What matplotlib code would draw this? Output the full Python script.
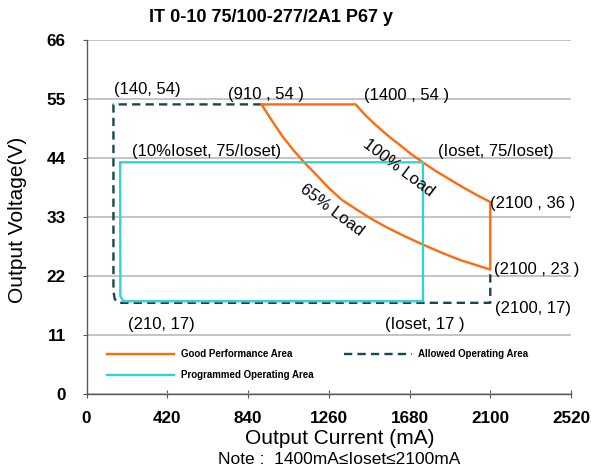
import matplotlib.pyplot as plt
from matplotlib.lines import Line2D

plt.rcParams['font.family'] = ['Liberation Sans', 'DejaVu Sans']

# area outlines (current mA, voltage V)
# good performance: top edge, 100% load curve, right edge, 65% load curve back
good_i = [910, 1400, 1450, 1500, 1560, 1620, 1690, 1753, 1820, 1890, 1960, 2030, 2100,
          2100, 2030, 1950, 1850, 1753, 1650, 1560, 1480, 1400, 1328, 1260, 1200, 1137,
          1080, 1020, 960, 910]
good_v = [54, 54, 52.0, 50.3, 48.4, 46.7, 44.7, 43.1, 41.5, 40.0, 38.5, 37.1, 35.8,
          23.2, 24.0, 24.9, 26.3, 27.8, 29.5, 31.1, 32.7, 34.5, 36.2, 38.4, 40.7, 43.0,
          45.3, 48.0, 51.2, 54]

allowed_i = [910, 140, 140, 146, 156, 172, 2100, 2100]
allowed_v = [54, 54, 19.2, 17.8, 17.2, 17.0, 17.0, 23.2]

prog_i = [175, 1750, 1750, 192, 176, 175]
prog_v = [43.2, 43.2, 17.3, 17.3, 18.2, 43.2]

xticks = [0, 420, 840, 1260, 1680, 2100, 2520]
yticks = [0, 11, 22, 33, 44, 55, 66]

labels = [  # text, x, y, ha
    ('(140, 54)', 317, 56.7, 'center'),
    ('(910 , 54 )', 934, 55.9, 'center'),
    ('(1400 , 54 )', 1666, 55.75, 'center'),
    ('(10%Ioset, 75/Ioset)', 622, 45.2, 'center'),
    ('(Ioset, 75/Ioset)', 2130, 45.2, 'center'),
    ('(2100 , 36 )', 2100, 35.5, 'left'),
    ('(2100 , 23 )', 2118, 23.2, 'left'),
    ('(2100, 17)', 2122, 16.0, 'left'),
    ('(210, 17)', 387, 12.9, 'center'),
    ('(Ioset, 17 )', 1762, 12.9, 'center'),
]

orange = '#ff6a0e'
teal = '#16464f'
cyan = '#33d3d3'

fig = plt.figure(figsize=(5.91, 4.71), dpi=100)
ax = fig.add_axes([0.1464, 0.1635, 0.8198, 0.7515])

ax.plot(allowed_i, allowed_v, color=teal, lw=1.7, ls=(0, (3.5, 2.2)), zorder=3)
ax.plot(good_i, good_v, color=orange, lw=1.7, zorder=4)
ax.plot(prog_i, prog_v, color=cyan, lw=1.7, zorder=5)

for t, x, y, ha in labels:
    ax.text(x, y, t, ha=ha, va='center', fontsize=12, clip_on=False, zorder=6)

ax.text(1623, 42.1, '100% Load', rotation=-37, ha='center', va='center', fontsize=12,
        rotation_mode='anchor', zorder=6)
ax.text(1276, 34.3, '65% Load', rotation=-37, ha='center', va='center', fontsize=12,
        rotation_mode='anchor', zorder=6)

ax.set_xlim(0, 2520)
ax.set_ylim(0, 66)
ax.set_xticks(xticks)
ax.set_yticks(yticks)
ax.set_xticklabels([str(v) for v in xticks], fontweight='bold', fontsize=12.3)
ax.set_yticklabels([str(v) for v in yticks], fontweight='bold', fontsize=12.3)
ax.yaxis.grid(True, color='#bfbfbf', lw=1.3)
ax.set_axisbelow(True)
ax.tick_params(axis='x', direction='inout', length=6, color='#595959', pad=9)
ax.tick_params(axis='y', direction='out', length=3, color='#595959', pad=12)
for s in ['top', 'right']:
    ax.spines[s].set_visible(False)
for s in ['left', 'bottom']:
    ax.spines[s].set_color('#595959')
    ax.spines[s].set_linewidth(1.0)

handles = [
    Line2D([], [], color=orange, lw=1.7),
    Line2D([], [], color=cyan, lw=1.7),
    Line2D([], [], color=teal, lw=1.7, ls=(0, (3.5, 2.2))),
]
names = ['Good Performance Area', 'Programmed Operating Area', 'Allowed Operating Area']
ax.legend(handles, names, ncol=2, loc='upper left', bbox_to_anchor=(0.042, 0.127),
          frameon=False, handlelength=6.9, handletextpad=0.7, columnspacing=3.2,
          labelspacing=1.15, borderpad=0, borderaxespad=0,
          prop={'weight': 'bold', 'size': 7})

fig.text(271 / 591, 1 - 17 / 471, 'IT 0-10 75/100-277/2A1 P67 y', ha='center', va='center',
         fontsize=13, fontweight='bold')
fig.text(18 / 591, 1 - 220 / 471, 'Output Voltage(V)', rotation=90, ha='center', va='center',
         fontsize=15)
fig.text(340 / 591, 1 - 438 / 471, 'Output Current (mA)', ha='center', va='center', fontsize=15)
fig.text(339 / 591, 1 - 459 / 471, 'Note :  1400mA\u2264Ioset\u22642100mA', ha='center',
         va='center', fontsize=12.5)

fig.savefig('out.png', dpi=100)
